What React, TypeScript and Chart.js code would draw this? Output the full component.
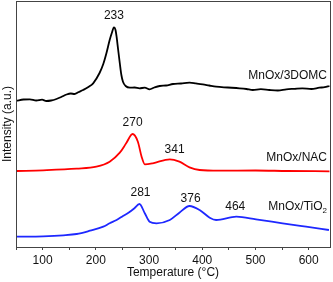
import React, { useEffect, useRef } from "react";
import { Chart, registerables } from "chart.js";

Chart.register(...registerables);

// Temperature (°C) and intensity (a.u., stacked offsets) for each sample
const tempBlack = [51, 64, 76, 88, 99, 107, 116, 126, 135, 145, 153, 160, 168, 176, 186, 195, 207, 214, 220, 226, 230, 234, 237, 239, 242, 245, 248, 251, 256, 264, 273, 282, 292, 301, 310, 320, 332, 345, 360, 376, 388, 401, 413, 426, 448, 470, 483, 495, 510, 526, 542, 558, 573, 588, 605, 620, 630, 639];
const intBlack = [146.3, 147.5, 147.7, 146.5, 147.3, 146, 146.5, 148, 150, 152.5, 153.5, 153, 155, 157, 160, 163.7, 174, 183, 194, 207, 214, 219.7, 217, 210.3, 197, 184, 172, 165.3, 161, 159.3, 159.5, 158.7, 159.3, 157.7, 159.5, 161, 161.5, 163, 163.5, 164.3, 163.6, 162.7, 161.5, 160.3, 159.5, 158.7, 158, 157, 157.8, 157, 156.5, 157.7, 158.2, 158.7, 158, 159.3, 159.8, 161];

const tempRed = [51, 101, 164, 201, 226, 245, 257, 269, 279, 286, 292, 307, 339, 357, 376, 395, 432, 500, 560, 639];
const intRed = [76, 76.7, 78.3, 80.3, 85.3, 94.3, 103.7, 113, 105.3, 90.3, 82.7, 83.7, 87.7, 85.3, 79.7, 77, 76.3, 76.5, 76, 75.7];

const tempBlue = [51, 101, 139, 164, 189, 214, 226, 239, 251, 262, 272, 282, 292, 301, 314, 339, 357, 376, 395, 414, 426, 464, 501, 551, 595, 638];
const intBlue = [10.3, 10.7, 11.7, 13, 16.3, 20.3, 23.7, 27, 31, 34.5, 38.5, 43, 33.7, 25.3, 23.7, 27, 34.3, 41, 37, 29.3, 27, 30.3, 27.7, 23.7, 20.3, 17];

const seriesNames = ["MnOx/3DOMC", "MnOx/NAC", "MnOx/TiO"];
const peakLabels = ["233", "270", "341", "281", "376", "464"];
const peakTemps = [234, 269, 348, 284, 378, 462];
const peakLabelLevels = [231.3, 124.3, 97, 54.3, 48.7, 40.3];

const xTitle = "Temperature (°C)";
const yTitle = "Intensity (a.u.)";

const FONT = "Arial, 'Liberation Sans', sans-serif";

const toPoints = (xs: number[], ys: number[]) => xs.map((x, i) => ({ x, y: ys[i] }));

export default function App() {
  const ref = useRef<HTMLCanvasElement | null>(null);

  useEffect(() => {
    if (!ref.current) return;

    const framePlugin = {
      id: "frame",
      afterDatasetsDraw(chart: any) {
        const { ctx, chartArea, scales } = chart;
        const { left, right, top, bottom } = chartArea;
        ctx.save();
        ctx.strokeStyle = "#444";
        ctx.lineWidth = 1;
        ctx.strokeRect(Math.round(left) + 0.5, Math.round(top) + 0.5, Math.round(right - left), Math.round(bottom - top));

        ctx.fillStyle = "#111";
        ctx.font = `12px ${FONT}`;
        ctx.textBaseline = "middle";
        ctx.textAlign = "center";
        peakLabels.forEach((t, i) => {
          ctx.fillText(t, scales.x.getPixelForValue(peakTemps[i]), scales.y.getPixelForValue(peakLabelLevels[i]));
        });

        ctx.textAlign = "right";
        const rx = right - 3;
        ctx.fillText(seriesNames[0], rx, scales.y.getPixelForValue(171));
        ctx.fillText(seriesNames[1], rx, scales.y.getPixelForValue(89.7));
        // TiO2 with subscript
        ctx.font = `8px ${FONT}`;
        const subW = ctx.measureText("2").width;
        const yT = scales.y.getPixelForValue(40.3);
        ctx.fillText("2", rx, yT + 4);
        ctx.font = `12px ${FONT}`;
        ctx.fillText(seriesNames[2], rx - subW, yT);
        ctx.restore();
      },
    };

    const common = { borderWidth: 1.8, pointRadius: 0, cubicInterpolationMode: "monotone" as const, fill: false };

    const chart = new Chart(ref.current, {
      type: "line",
      data: {
        datasets: [
          { label: seriesNames[0], data: toPoints(tempBlack, intBlack), borderColor: "#000", ...common },
          { label: seriesNames[1], data: toPoints(tempRed, intRed), borderColor: "rgb(255,0,0)", ...common },
          { label: seriesNames[2], data: toPoints(tempBlue, intBlue), borderColor: "rgb(30,40,255)", ...common },
        ],
      },
      options: {
        responsive: false,
        animation: false,
        events: [],
        layout: { padding: { top: 1, right: 3, left: 0, bottom: 0 } },
        plugins: { legend: { display: false }, tooltip: { enabled: false } },
        scales: {
          x: {
            type: "linear",
            min: 50,
            max: 640,
            border: { display: false },
            grid: { display: true, drawOnChartArea: false, drawTicks: true, tickLength: 3, color: "#444" },
            ticks: {
              stepSize: 50,
              autoSkip: false,
              includeBounds: false,
              maxRotation: 0,
              padding: 3,
              color: "#111",
              font: { family: FONT, size: 12 },
              callback: (v: any) => (Number(v) % 100 === 0 ? String(v) : ""),
            },
            title: { display: true, text: xTitle, color: "#111", font: { family: FONT, size: 12 }, padding: { top: 0, bottom: 2 } },
            afterFit: (s: any) => { s.height = 35; },
          },
          y: {
            type: "linear",
            min: 0,
            max: 246,
            border: { display: false },
            grid: { display: false },
            ticks: { display: false },
            title: { display: true, text: yTitle, color: "#111", font: { family: FONT, size: 12 }, padding: { top: 0, bottom: 0 } },
            afterFit: (s: any) => { s.width = 16; },
          },
        },
      },
      plugins: [framePlugin],
    });

    return () => chart.destroy();
  }, []);

  return (
    <div style={{ position: "absolute", left: 0, top: 0, width: 333, height: 282, background: "#fff" }}>
      <canvas ref={ref} width={333} height={282} style={{ width: 333, height: 282, display: "block" }} />
    </div>
  );
}
